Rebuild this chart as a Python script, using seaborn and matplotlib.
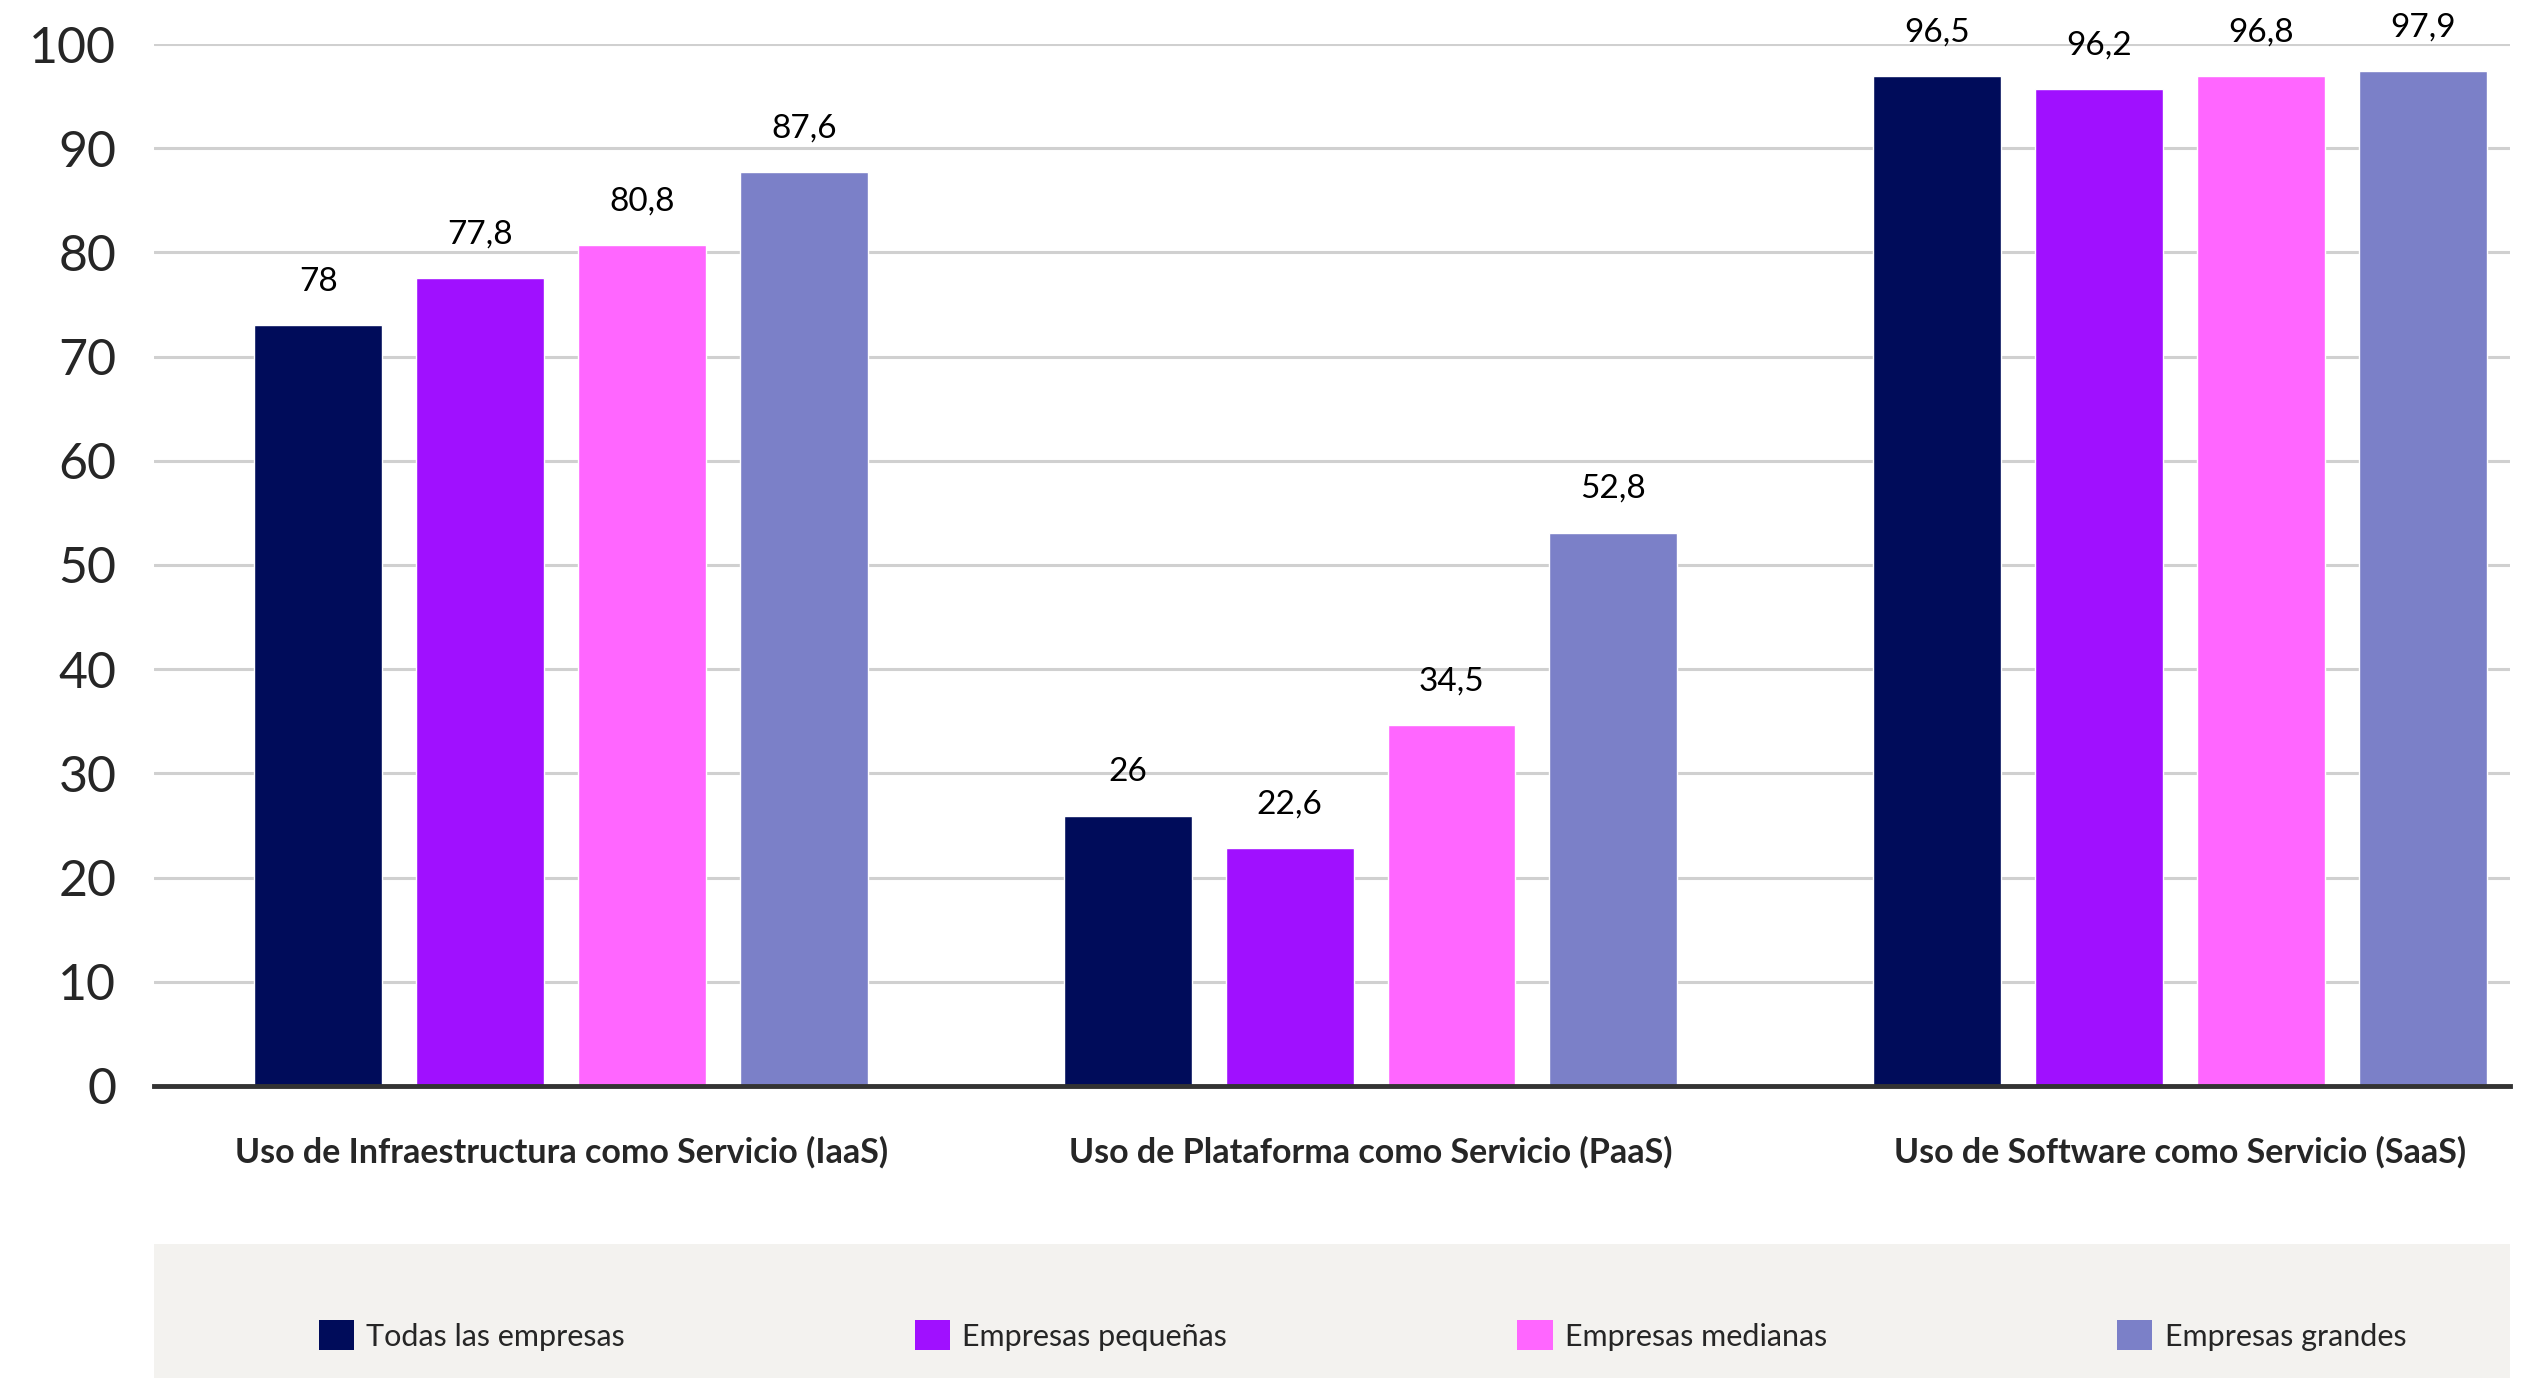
import matplotlib
matplotlib.use("Agg")
import matplotlib.pyplot as plt
from matplotlib.patches import Rectangle, Patch
import pandas as pd
import seaborn as sns

# data
categories = ["Uso de Infraestructura como Servicio (IaaS)",
              "Uso de Plataforma como Servicio (PaaS)",
              "Uso de Software como Servicio (SaaS)"]
series = ["Todas las empresas", "Empresas pequeñas", "Empresas medianas", "Empresas grandes"]
# drawn bar heights (as they appear)
todas = [73.0, 25.9, 96.9]
pequenas = [77.5, 22.8, 95.7]
medianas = [80.7, 34.6, 96.9]
grandes = [87.7, 53.1, 97.4]
# printed labels
lab_todas = ["78", "26", "96,5"]
lab_pequenas = ["77,8", "22,6", "96,2"]
lab_medianas = ["80,8", "34,5", "96,8"]
lab_grandes = ["87,6", "52,8", "97,9"]

colors = ["#000C5A", "#A010FF", "#FF66FF", "#7B80C8"]

rows = []
for s, vals, labs in zip(series, [todas, pequenas, medianas, grandes],
                         [lab_todas, lab_pequenas, lab_medianas, lab_grandes]):
    for c, v, l in zip(categories, vals, labs):
        rows.append({"cat": c, "serie": s, "valor": v, "label": l})
df = pd.DataFrame(rows)

sns.set_style("white")
plt.rcParams["font.family"] = ["Lato", "DejaVu Sans"]

fig = plt.figure(figsize=(25.23, 13.78), dpi=100)
ax = fig.add_axes([0.061, 0.212, 0.934, 0.756])

# legend band
fig.patches.append(Rectangle((0.061, 0.0), 0.934, 0.097, transform=fig.transFigure,
                             facecolor="#F3F2EF", edgecolor="none", zorder=0))

sns.barplot(data=df, x="cat", y="valor", hue="serie", order=categories,
            hue_order=series, palette=colors, width=0.8, gap=0.21,
            saturation=1, legend=False, ax=ax, zorder=3)

# value labels
for cont, s in zip(ax.containers, series):
    labs = df[df.serie == s].set_index("cat").loc[categories, "label"].tolist()
    for bar, txt in zip(cont, labs):
        ax.text(bar.get_x() + bar.get_width() / 2, bar.get_height() + 4.2, txt,
                ha="center", va="center", fontsize=24, color="black", clip_on=False)

ax.set_ylim(0, 100)
ax.set_xlim(-0.503, 2.408)
ax.set_yticks(range(0, 101, 10))
ax.tick_params(axis="y", length=0, pad=27, labelsize=36)
ax.tick_params(axis="x", length=0, pad=36, labelsize=24.5)
for lbl in ax.get_xticklabels():
    lbl.set_fontweight("bold")
ax.set_xlabel("")
ax.set_ylabel("")
ax.grid(axis="y", color="#D0D0D0", linewidth=2.2, zorder=0)
ax.set_axisbelow(True)
for side in ["top", "right", "left"]:
    ax.spines[side].set_visible(False)
ax.spines["bottom"].set_color("#333333")
ax.spines["bottom"].set_linewidth(3.5)
ax.spines["bottom"].set_zorder(5)

handles = [Patch(facecolor=c, edgecolor="none") for c in colors]
fig.legend(handles, series, loc="center", bbox_to_anchor=(0.540, 0.031), ncol=4,
           frameon=False, fontsize=22, handlelength=1.15, handleheight=1.15,
           handletextpad=0.4, columnspacing=9.5)

fig.savefig("out.png", dpi=100)
